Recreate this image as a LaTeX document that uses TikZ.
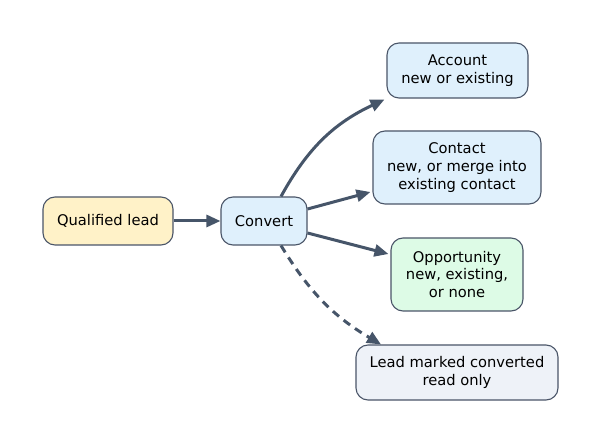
\documentclass[tikz,border=0pt]{standalone}
\usepackage{fontspec}
\setmainfont{DejaVu Sans}
\usetikzlibrary{arrows.meta,calc}
\definecolor{edgec}{HTML}{465569}
\definecolor{bordc}{HTML}{4A5568}
\definecolor{yellowf}{HTML}{FFF2C8}
\definecolor{bluef}{HTML}{DFF0FC}
\definecolor{greenf}{HTML}{DDFBE6}
\definecolor{greyf}{HTML}{EEF2F8}
\tikzset{
  box/.style={draw=bordc, line width=1.1pt, rounded corners=12pt, inner sep=0pt,
    align=center, font=\fontsize{14.7}{17.8}\selectfont},
  conn/.style={draw=edgec, line width=3pt, -{Triangle[length=14pt,width=12pt]}},
}
\begin{document}
\begin{tikzpicture}[x=1pt,y=-1pt]
\useasboundingbox (0,0) rectangle (602,443);
\node[box, fill=yellowf, minimum width=130pt, minimum height=48pt] (ql) at (108,221) {Qualified lead};
\node[box, fill=bluef, minimum width=86pt, minimum height=48pt] (conv) at (264,221) {Convert};
\node[box, fill=bluef, minimum width=141pt, minimum height=55pt] (acc) at (457.5,70.5) {Account\\new or existing};
\node[box, fill=bluef, minimum width=168pt, minimum height=73pt] (con) at (457,167.5) {Contact\\new, or merge into\\existing contact};
\node[box, fill=greenf, minimum width=132pt, minimum height=73pt] (opp) at (457,274.5) {Opportunity\\new, existing,\\or none};
\node[box, fill=greyf, minimum width=202pt, minimum height=55pt] (lead) at (457,372.5) {Lead marked converted\\read only};
\draw[conn] (ql.east) -- (conv.west);
\draw[conn] ($(conv.north)+(17,0)$) to[bend left=18] ($(acc.south west)+(-2,1)$);
\draw[conn] ($(conv.east)+(0,-12)$) -- ($(con.west)+(-2,24.5)$);
\draw[conn] ($(conv.east)+(0,12)$) -- ($(opp.west)+(-2,-20.5)$);
\draw[conn, dash pattern=on 8pt off 6pt] ($(conv.south)+(17,0)$) to[bend right=14] ($(lead.north)+(-76,0)$);
\end{tikzpicture}
\end{document}
